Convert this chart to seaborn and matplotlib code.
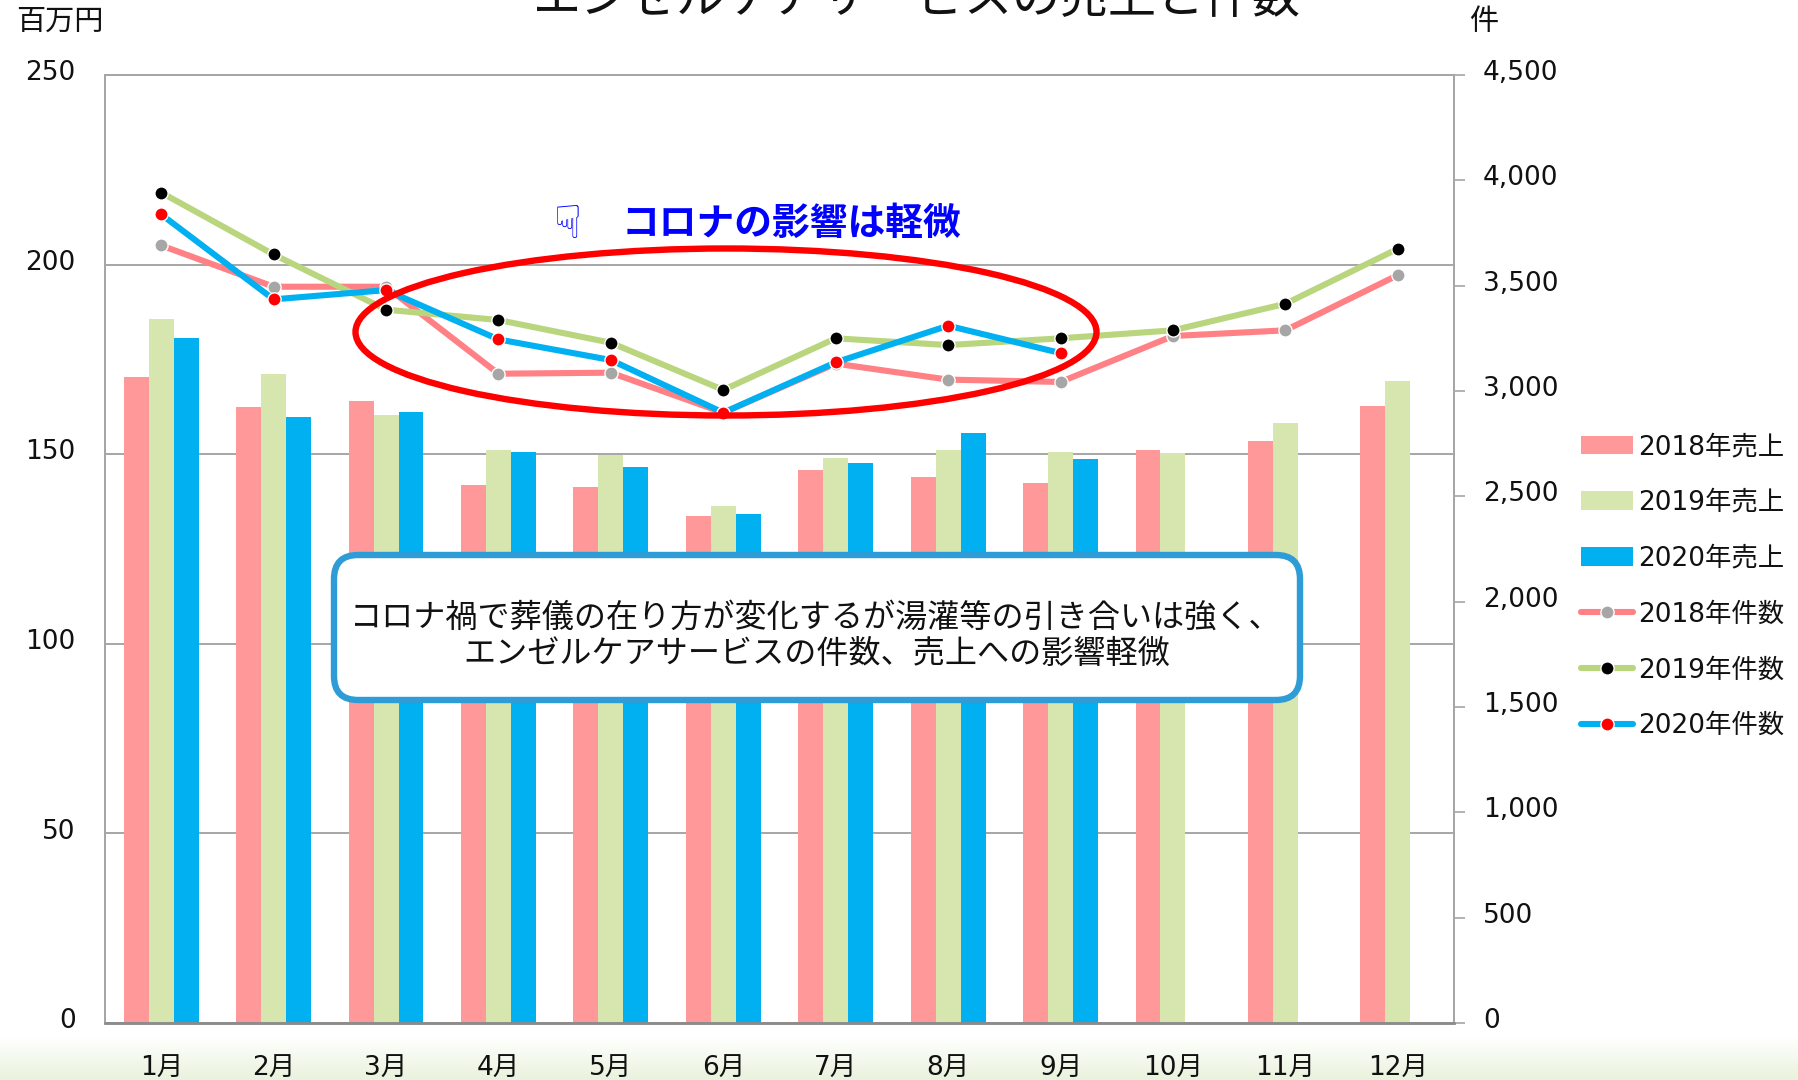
import numpy as np
import pandas as pd
import seaborn as sns
import matplotlib.pyplot as plt
from matplotlib.patches import Ellipse, FancyBboxPatch
from matplotlib.transforms import ScaledTranslation

months = ['1月', '2月', '3月', '4月', '5月', '6月', '7月', '8月', '9月', '10月', '11月', '12月']
nan = float('nan')

# sales, million yen
sales_2018 = [170.3, 162.4, 164.0, 141.9, 141.3, 133.7, 145.8, 144.0, 142.5, 151.0, 153.4, 162.7]
sales_2019 = [185.7, 171.2, 160.3, 151.0, 149.7, 136.4, 149.0, 151.2, 150.6, 150.3, 158.2, 169.4]
sales_2020 = [180.6, 159.7, 161.2, 150.6, 146.7, 134.3, 147.6, 155.5, 148.8, nan, nan, nan]

# number of cases
count_2018 = [3691, 3495, 3495, 3082, 3087, 2897, 3130, 3054, 3043, 3261, 3288, 3550]
count_2019 = [3942, 3648, 3386, 3337, 3229, 3005, 3250, 3218, 3250, 3288, 3414, 3675]
count_2020 = [3838, 3435, 3479, 3245, 3147, 2897, 3136, 3310, 3180, nan, nan, nan]

bar_names = ['2018年売上', '2019年売上', '2020年売上']
bar_colors = ['#FF9999', '#D7E6AE', '#00B0F0']
line_names = ['2018年件数', '2019年件数', '2020年件数']
line_colors = ['#FF8085', '#B9D67E', '#00B0F0']
dot_colors = ['#A6A6A6', '#000000', '#FF0000']

GRAY = '#A6A6A6'
W, H = 1798, 1080

sns.set_theme(style='white')
plt.rcParams['font.family'] = ['DejaVu Sans', 'Noto Sans CJK JP']

fig = plt.figure(figsize=(W / 100, H / 100), dpi=100, facecolor='white')

# pale green fade along the bottom of the slide
bg = fig.add_axes([0, 0, 1, 1], zorder=0)
bg.imshow(np.linspace(0, 1, 256).reshape(-1, 1), cmap=sns.blend_palette(['#FFFFFF', '#E9F2DC'], as_cmap=True),
          extent=[0, W, H, 1037], aspect='auto')
bg.set_xlim(0, W)
bg.set_ylim(H, 0)
bg.axis('off')

ax = fig.add_axes([105 / W, 1 - 1023 / H, (1454 - 105) / W, (1023 - 75) / H], zorder=1)
ax.patch.set_alpha(0)

df = pd.DataFrame({'month': months * 3,
                   'series': np.repeat(bar_names, len(months)),
                   'sales': sales_2018 + sales_2019 + sales_2020})
sns.barplot(data=df, x='month', y='sales', hue='series', palette=bar_colors, saturation=1,
            width=0.665, gap=0, linewidth=0, ax=ax)
bar_handles, bar_labels = ax.get_legend_handles_labels()
ax.get_legend().remove()

ax.set_xlim(-0.5, 11.5)
ax.set_ylim(0, 250)
ax.set_yticks([0, 50, 100, 150, 200, 250])
ax.set_xlabel('')
ax.set_ylabel('')
ax.set_axisbelow(True)
ax.yaxis.grid(True, color=GRAY, lw=1.4)
ax.tick_params(axis='y', length=0, pad=21, labelsize=19, labelcolor='#111111')
ax.tick_params(axis='x', length=0, pad=24, labelsize=19, labelcolor='#111111')

ax2 = ax.twinx()
ax2.set_zorder(2)
pos = np.arange(len(months))
for name, vals, c, dot in zip(line_names, [count_2018, count_2019, count_2020], line_colors, dot_colors):
    sns.lineplot(x=pos, y=vals, color=c, lw=4.4, marker='o', markersize=9.5, markerfacecolor=dot,
                 markeredgecolor='white', markeredgewidth=1.0, solid_capstyle='round',
                 label=name, legend=False, errorbar=None, ax=ax2)
ax2.set_ylim(0, 4500)
ax2.set_yticks(np.arange(0, 4501, 500))
ax2.set_yticklabels([f'{v:,}' for v in np.arange(0, 4501, 500)])
ax2.set_ylabel('')
ax2.tick_params(axis='y', length=8, width=1.2, color=GRAY, pad=13, labelsize=19, labelcolor='#111111')

for a in [ax, ax2]:
    for side, sp in a.spines.items():
        sp.set_visible(True)
        sp.set_color(GRAY)
        sp.set_linewidth(1.4)
    a.spines['bottom'].set_color('#8C8C8C')
    a.spines['bottom'].set_linewidth(1.8)
    # numbers sit a little above their gridlines in the source
    for lab in a.get_yticklabels():
        lab.set_transform(lab.get_transform() + ScaledTranslation(0, 3.5 / 72, fig.dpi_scale_trans))

# annotation layer, in slide pixels
top = fig.add_axes([0, 0, 1, 1], zorder=3)
top.set_xlim(0, W)
top.set_ylim(H, 0)
top.axis('off')

top.add_patch(Ellipse((726, 332), 741, 167, fc='none', ec='#FF0000', lw=4.6))
top.add_patch(FancyBboxPatch((334, 555), 966, 145, boxstyle='round,pad=0,rounding_size=24',
                             fc='white', ec='#2E9CD6', lw=4.6))
top.text(816, 618, 'コロナ禍で葬儀の在り方が変化するが湯灌等の引き合いは強く、', ha='center', va='center',
         fontsize=23.1, color='#111111')
top.text(817, 654, 'エンゼルケアサービスの件数、売上への影響軽微', ha='center', va='center',
         fontsize=23.1, color='#111111')
top.text(791, 225, 'コロナの影響は軽微', ha='center', va='center', fontsize=27.2, fontweight='bold', color='#0000FF')
top.text(568, 225, '\u261F', ha='center', va='center', fontsize=33, color='#0000FF')
top.text(917, 13, 'エンゼルケアサービスの売上と件数', ha='center', va='baseline', fontsize=34.6, color='#111111')
top.text(60, 22, '百万円', ha='center', va='center', fontsize=21, color='#111111')
top.text(1484, 22, '件', ha='center', va='center', fontsize=21, color='#111111')

line_handles, line_labels = ax2.get_legend_handles_labels()
fig.legend(bar_handles + line_handles, bar_labels + line_labels, loc='upper left',
           bbox_to_anchor=(1581 / W, 1 - 434 / H), frameon=False, fontsize=19, borderpad=0, borderaxespad=0,
           labelspacing=1.13, handlelength=1.97, handleheight=0.7, handletextpad=0.2, labelcolor='#111111')

fig.savefig('out.png', dpi=100)
